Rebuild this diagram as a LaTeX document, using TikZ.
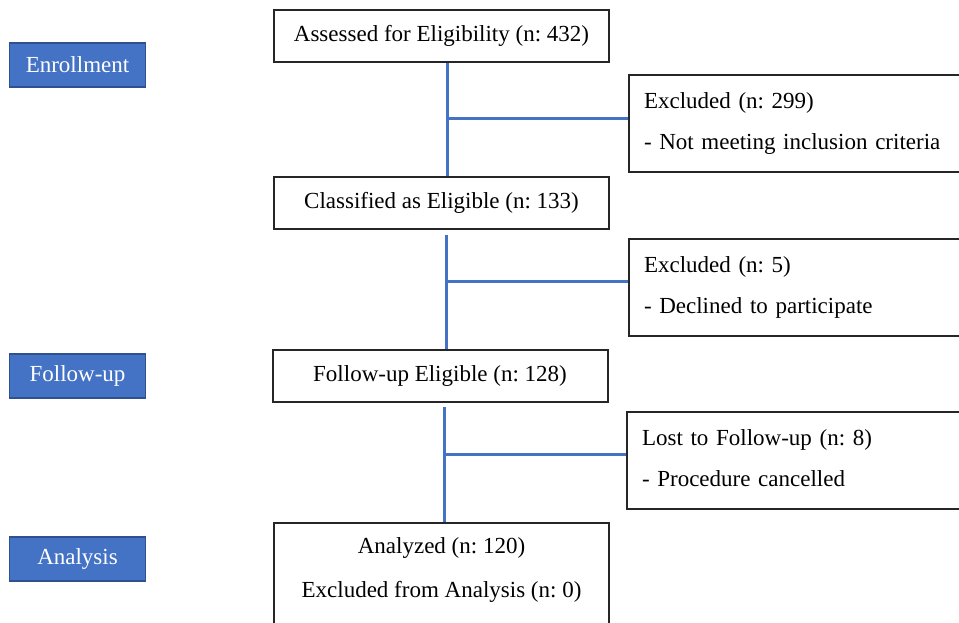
\documentclass[tikz,border=0pt]{standalone}
\usepackage{fontspec}
\setmainfont{Liberation Serif}
\usepackage{tikz}
\usetikzlibrary{positioning,calc}
\definecolor{phasecolor}{RGB}{68,114,196}
\definecolor{phaseedge}{RGB}{47,82,143}
\definecolor{flowcolor}{RGB}{68,114,196}
\frenchspacing

\begin{document}
\begin{tikzpicture}[
    x=0.5pt, y=-0.5pt,
    every node/.style={font=\fontsize{11.5}{14}\selectfont},
    phasebox/.style={
        rectangle, draw=phaseedge, line width=0.8pt, fill=phasecolor,
        text=white, minimum width=68pt, minimum height=22pt, inner sep=0pt
    },
    flowbox/.style={
        rectangle, draw=black!85, line width=1pt,
        minimum width=167.5pt, minimum height=26pt, inner sep=0pt
    },
    sidebox/.style={
        rectangle, draw=black!85, line width=1pt, anchor=west,
        minimum width=220pt, minimum height=48.5pt,
        inner xsep=7.5pt, text width=205pt, align=left
    },
    flowline/.style={draw=flowcolor, line width=1.5pt}
]
\useasboundingbox (0,0) rectangle (959,622);
\clip (0,0) rectangle (959,622);

% Phase labels
\node[phasebox] (enroll) at (77.5,65) {Enrollment};
\node[phasebox] (followup) at (77.5,376) {Follow-up};
\node[phasebox] (analysis) at (77.5,559) {Analysis};

% Main flow
\node[flowbox] (assessed) at (441.5,36) {Assessed for Eligibility (n: 432)};
\node[flowbox] (eligible) at (441.5,203) {Classified as Eligible (n: 133)};
\node[flowbox] (fueligible) at (440,376) {Follow-up Eligible (n: 128)};
\node[flowbox, anchor=north, text height=15pt, text depth=55pt] (analyzed) at (441.5,522) {%
    \begin{tabular}[t]{@{}c@{}}Analyzed (n: 120)\\[8pt]Excluded from Analysis (n: 0)\end{tabular}};

% Exclusions
\node[sidebox] (exclA) at (628,123.5) {\begin{tabular}{@{}l@{}}Excluded (n: 299)\\[6.5pt]- Not meeting inclusion criteria\end{tabular}};
\node[sidebox] (exclB) at (628,287.5) {\begin{tabular}{@{}l@{}}Excluded (n: 5)\\[6.5pt]- Declined to participate\end{tabular}};
\node[sidebox] (lost) at (626,460) {\begin{tabular}{@{}l@{}}Lost to Follow-up (n: 8)\\[6.5pt]- Procedure cancelled\end{tabular}};

% Connectors
\coordinate (jA) at (447,118);
\coordinate (jB) at (446,281);
\coordinate (jC) at (444,454);
\coordinate (topB) at (446,235);
\coordinate (topC) at (444,407);

\draw[flowline] (jA |- assessed.south) -- (jA |- eligible.north);
\draw[flowline] (jA) -- (jA -| exclA.west);
\draw[flowline] (topB) -- (jB |- fueligible.north);
\draw[flowline] (jB) -- (jB -| exclB.west);
\draw[flowline] (topC) -- (jC |- analyzed.north);
\draw[flowline] (jC) -- (jC -| lost.west);

\end{tikzpicture}
\end{document}
